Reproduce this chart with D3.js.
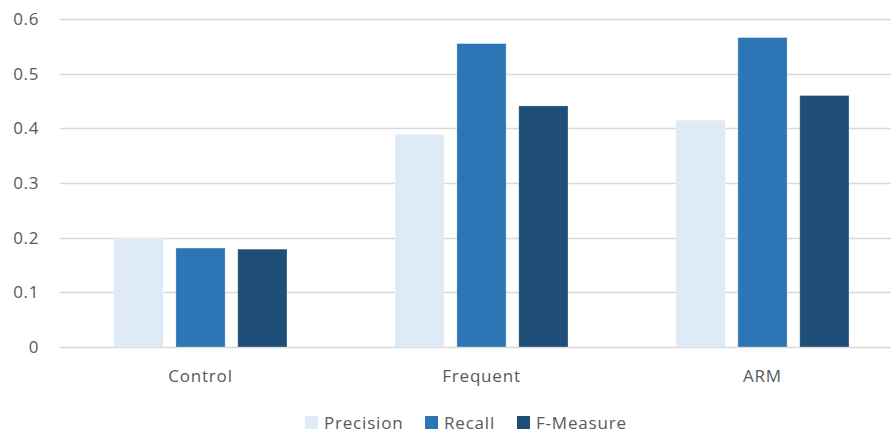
<!DOCTYPE html>
<html>
<head>
<meta charset="utf-8">
<script src="https://cdn.jsdelivr.net/npm/d3@7"></script>
<style>
  html, body { margin: 0; padding: 0; background: #fff; }
  svg { display: block; }
  text { font-family: "Open Sans", sans-serif; fill: #595959; }
</style>
</head>
<body>
<svg id="chart" width="891" height="434"></svg>
<script>
// Categories and series
const categories = ["Control", "Frequent", "ARM"];
const seriesNames = ["Precision", "Recall", "F-Measure"];
const precision = [0.199, 0.389, 0.415];
const recall = [0.181, 0.555, 0.566];
const fMeasure = [0.179, 0.441, 0.460];
const yTicks = [0, 0.1, 0.2, 0.3, 0.4, 0.5, 0.6];
const colors = ["#DEEAF6", "#2E75B6", "#1F4E79"];

const seriesValues = [precision, recall, fMeasure];

const svg = d3.select("#chart");
const plotLeft = 60, plotRight = 903, plotTop = 19, plotBottom = 347;

const x0 = d3.scaleBand().domain(categories).range([plotLeft, plotRight]).paddingInner(0).paddingOuter(0);
const x1 = d3.scaleBand().domain(seriesNames).range([54, x0.bandwidth() - 54]).paddingInner(0.205).paddingOuter(0);
const y = d3.scaleLinear().domain([0, 0.6]).range([plotBottom, plotTop]);

// Horizontal gridlines
svg.append("g")
  .selectAll("line")
  .data(yTicks)
  .join("line")
  .attr("x1", plotLeft).attr("x2", 891)
  .attr("y1", d => Math.round(y(d)) + 0.5)
  .attr("y2", d => Math.round(y(d)) + 0.5)
  .attr("stroke", "#d9d9d9")
  .attr("stroke-width", 1.3);

// Y axis labels
const yAxis = d3.axisLeft(y).tickValues(yTicks).tickSize(0).tickPadding(0)
  .tickFormat(d => d === 0 ? "0" : d3.format(".1f")(d));
const yg = svg.append("g").attr("transform", "translate(39,0)").call(yAxis);
yg.select(".domain").remove();
yg.selectAll("text")
  .attr("font-family", "Open Sans, sans-serif")
  .attr("font-size", 17)
  .attr("letter-spacing", 0.6)
  .attr("fill", "#595959");

// Bars
const groups = svg.append("g")
  .selectAll("g")
  .data(categories)
  .join("g")
  .attr("transform", d => `translate(${x0(d)},0)`);

groups.selectAll("rect")
  .data((c, i) => seriesNames.map((s, j) => ({ s, v: seriesValues[j][i], j })))
  .join("rect")
  .attr("x", d => x1(d.s))
  .attr("width", x1.bandwidth())
  .attr("y", d => y(d.v))
  .attr("height", d => y(0) - y(d.v))
  .attr("fill", d => colors[d.j])
  .attr("stroke", "rgba(255,255,255,0.35)")
  .attr("stroke-width", 0.8);

// Category axis labels
const xAxis = d3.axisBottom(x0).tickSize(0).tickPadding(0);
const xg = svg.append("g").attr("transform", `translate(0,${plotBottom + 35})`).call(xAxis);
xg.select(".domain").remove();
xg.selectAll("text")
  .attr("dy", 0)
  .attr("font-family", "Open Sans, sans-serif")
  .attr("font-size", 17)
  .attr("letter-spacing", 0.8)
  .attr("fill", "#595959");

// Legend
const legendX = [305, 425, 517];
const legend = svg.append("g")
  .selectAll("g")
  .data(seriesNames)
  .join("g")
  .attr("transform", (d, i) => `translate(${legendX[i]},0)`);
legend.append("rect")
  .attr("x", 0).attr("y", 416)
  .attr("width", 13).attr("height", 13)
  .attr("fill", (d, i) => colors[i]);
legend.append("text")
  .attr("x", 19).attr("y", 429)
  .attr("font-size", 17)
  .attr("letter-spacing", 0.8)
  .text(d => d);
</script>
</body>
</html>
